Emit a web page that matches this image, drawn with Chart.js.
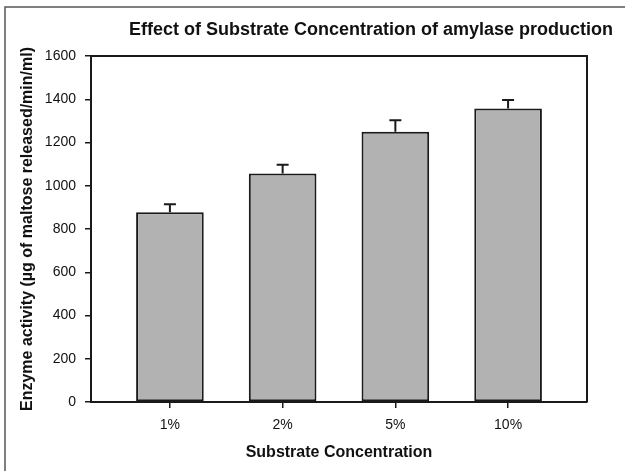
<!DOCTYPE html>
<html>
<head>
<meta charset="utf-8">
<script src="https://cdn.jsdelivr.net/npm/chart.js@4/dist/chart.umd.min.js"></script>
<style>
  body { margin: 0; background: #fff; }
</style>
</head>
<body>
<canvas id="enzymeChart" width="625" height="471"></canvas>
<script>
// data
const categories = ['1%', '2%', '5%', '10%'];
const activity = [878, 1057, 1250, 1357];
const errorUp = [37, 40, 53, 40];
const yTicks = [0, 200, 400, 600, 800, 1000, 1200, 1400, 1600];

const titleText = 'Effect of Substrate Concentration of amylase production';

// outer frame + figure title (drawn outside the chart area)
const framePlugin = {
    id: 'frame',
    beforeDraw(chart) {
        const ctx = chart.ctx;
        ctx.save();
        ctx.fillStyle = '#fff';
        ctx.fillRect(0, 0, chart.width, chart.height);
        ctx.strokeStyle = '#555';
        ctx.lineWidth = 1.5;
        ctx.strokeRect(5, 7, chart.width + 20, chart.height + 20);
        ctx.restore();
    },
    afterDraw(chart) {
        const ctx = chart.ctx;
        ctx.save();
        ctx.font = 'bold 18px "Liberation Sans", Arial, sans-serif';
        ctx.fillStyle = '#111';
        ctx.textAlign = 'center';
        ctx.textBaseline = 'middle';
        ctx.fillText(titleText, 371, 30);
        // top and right sides of the plot box
        const a = chart.chartArea;
        ctx.strokeStyle = '#1a1a1a';
        ctx.lineWidth = 2;
        ctx.beginPath();
        ctx.moveTo(a.left, a.top);
        ctx.lineTo(a.right, a.top);
        ctx.lineTo(a.right, a.bottom);
        ctx.stroke();
        ctx.restore();
    }
};

// upward-only error bars
const errorBarPlugin = {
    id: 'errorBars',
    afterDatasetsDraw(chart) {
        const ctx = chart.ctx;
        const x = chart.scales.x;
        const y = chart.scales.y;
        ctx.save();
        ctx.strokeStyle = '#1a1a1a';
        ctx.lineWidth = 2;
        activity.forEach((v, i) => {
            const px = x.getPixelForValue(i);
            const y0 = y.getPixelForValue(v);
            const y1 = y.getPixelForValue(v + errorUp[i]);
            ctx.beginPath();
            ctx.moveTo(px, y0);
            ctx.lineTo(px, y1);
            ctx.moveTo(px - 6, y1);
            ctx.lineTo(px + 6, y1);
            ctx.stroke();
        });
        ctx.restore();
    }
};

const tickFont = { family: '"Liberation Sans", Arial, sans-serif', size: 14 };
const axisFont = { family: '"Liberation Sans", Arial, sans-serif', size: 16, weight: 'bold' };

new Chart(document.getElementById('enzymeChart'), {
    type: 'bar',
    data: {
        datasets: [{
            data: activity.map((v, i) => ({ x: i, y: v })),
            backgroundColor: '#b2b2b2',
            borderColor: '#1a1a1a',
            borderWidth: 2,
            borderSkipped: false,
            categoryPercentage: 1,
            barPercentage: 0.6
        }]
    },
    options: {
        responsive: false,
        animation: false,
        layout: { padding: { top: 56, right: 38, left: 0, bottom: 0 } },
        plugins: {
            legend: { display: false },
            title: { display: false },
            tooltip: { enabled: false }
        },
        scales: {
            x: {
                type: 'linear',
                min: -0.7,
                max: 3.7,
                offset: false,
                afterBuildTicks: (scale) => {
                    scale.ticks = categories.map((c, i) => ({ value: i }));
                },
                afterFit: (scale) => { scale.height = 69; },
                grid: { offset: false, drawOnChartArea: false, drawTicks: true, tickLength: 6, color: '#1a1a1a', lineWidth: 1.5 },
                border: { display: true, color: '#1a1a1a', width: 2 },
                ticks: {
                    font: tickFont,
                    color: '#111',
                    padding: 9,
                    maxRotation: 0,
                    callback: (v) => categories[v]
                },
                title: {
                    display: true,
                    text: 'Substrate Concentration',
                    font: axisFont,
                    color: '#111',
                    padding: { top: 0, bottom: 9 }
                }
            },
            y: {
                min: 0,
                max: 1600,
                afterBuildTicks: (scale) => {
                    scale.ticks = yTicks.map(v => ({ value: v }));
                },
                afterFit: (scale) => { scale.width = 91; },
                grid: { drawOnChartArea: false, drawTicks: true, tickLength: 6, color: '#1a1a1a', lineWidth: 1.5 },
                border: { display: true, color: '#1a1a1a', width: 2 },
                ticks: { font: tickFont, color: '#111', padding: 9, callback: (v) => String(v) },
                title: {
                    display: true,
                    text: 'Enzyme activity (µg of maltose released/min/ml)',
                    font: axisFont,
                    color: '#111',
                    padding: { top: 18, bottom: 0 }
                }
            }
        }
    },
    plugins: [framePlugin, errorBarPlugin]
});
</script>
</body>
</html>
